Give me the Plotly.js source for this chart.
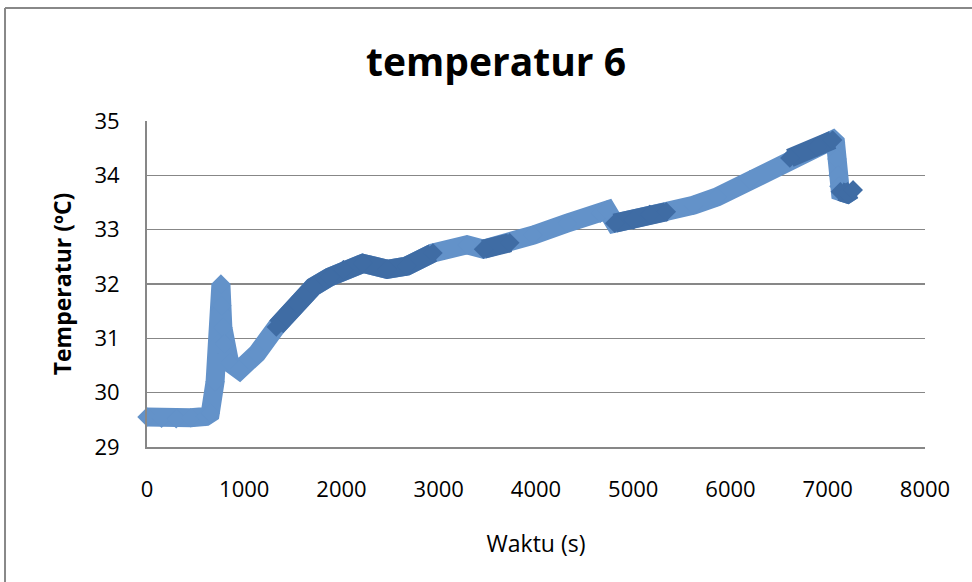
<!DOCTYPE html>
<html>
<head>
<meta charset="utf-8">
<script src="https://cdn.plot.ly/plotly-3.0.1.min.js"></script>
<style>html,body{margin:0;padding:0;background:#fff;}#chart{width:972px;height:582px;}</style>
</head>
<body>
<div id="chart"></div>
<script>
// Data
const timeSeconds = [0,150,300,450,600,650,700,730,750,760,770,780,800,850,950,1130,1330,1540,1710,1880,2020,2220,2470,2670,2940,3290,3460,3730,3970,4320,4660,4730,4810,5000,5170,5340,5620,5860,6200,6610,6890,7050,7080,7095,7105,7115,7130,7200,7260];
const temperature = [29.55,29.53,29.52,29.54,29.56,29.62,30.2,30.9,31.5,32.0,31.6,31.2,30.9,30.55,30.42,30.72,31.21,31.64,31.95,32.13,32.26,32.38,32.27,32.33,32.57,32.72,32.64,32.76,32.9,33.12,33.30,33.36,33.12,33.18,33.28,33.33,33.45,33.6,33.92,34.32,34.52,34.65,34.6,34.3,34.0,33.8,33.7,33.66,33.73];
const xTicks = [0,1000,2000,3000,4000,5000,6000,7000,8000];
const yTicks = [29,30,31,32,33,34,35];
const chartTitle = 'temperatur 6';
const xTitle = 'Waktu (s)';
const yTitle = 'Temperatur (ºC)';
// time spans where the marker band looks darker in the original (dense overlapping markers)
const denseStart = [1330, 2020, 2600, 3460, 4810, 5170, 6610, 7130];
const denseEnd   = [1880, 2470, 2940, 3730, 5000, 5340, 7050, 7260];

const gridColor = '#878787';
const font = 'Open Sans, Lato, sans-serif';
const light = '#6392c9';
const dark = '#3f6ca4';

function inDense(t) {
  for (let i = 0; i < denseStart.length; i++) if (t >= denseStart[i] && t <= denseEnd[i]) return true;
  return false;
}
const denseY = temperature.map((v, i) => inDense(timeSeconds[i]) ? v : null);

const traces = [
  {
    x: timeSeconds, y: temperature,
    type: 'scatter', mode: 'lines+markers', cliponaxis: false,
    line: {color: light, width: 19},
    marker: {symbol: 'diamond', size: 15, color: light, line: {width: 0}},
    hoverinfo: 'x+y', showlegend: false
  },
  {
    x: timeSeconds, y: denseY,
    type: 'scatter', mode: 'lines+markers', connectgaps: false, cliponaxis: false,
    line: {color: dark, width: 19},
    marker: {symbol: 'diamond', size: 15, color: dark, line: {width: 0}},
    hoverinfo: 'skip', showlegend: false
  }
];

const layout = {
  width: 972, height: 582,
  margin: {l: 147, r: 47, t: 121, b: 135},
  paper_bgcolor: '#ffffff', plot_bgcolor: '#ffffff',
  title: {
    text: chartTitle,
    font: {family: font, size: 39, color: '#000', weight: 700},
    xref: 'paper', x: 0.4486, xanchor: 'center',
    yref: 'container', y: 0.893, yanchor: 'middle'
  },
  xaxis: {
    range: [0, 8000], tickvals: xTicks, ticktext: xTicks.map(String),
    showgrid: false, zeroline: false,
    showline: true, linecolor: gridColor, linewidth: 2,
    ticks: 'outside', ticklen: 22, tickcolor: 'rgba(0,0,0,0)',
    tickfont: {family: font, size: 22, color: '#000'},
    title: {text: xTitle, font: {family: font, size: 23, color: '#000'}, standoff: 33}
  },
  yaxis: {
    range: [29, 35], tickvals: yTicks, ticktext: yTicks.map(String),
    showgrid: true, gridcolor: gridColor, gridwidth: 1.5, zeroline: false,
    showline: true, linecolor: gridColor, linewidth: 2,
    ticks: 'outside', ticklen: 21, tickcolor: 'rgba(0,0,0,0)',
    tickfont: {family: font, size: 22, color: '#000'},
    title: {text: yTitle, font: {family: font, size: 23, color: '#000', weight: 700}, standoff: 16}
  },
  shapes: [
    {type: 'line', xref: 'paper', yref: 'paper', x0: -0.1825, x1: 1.07, y0: 1.3466, y1: 1.3466, line: {color: '#888', width: 2}},
    {type: 'line', xref: 'paper', yref: 'paper', x0: -0.1825, x1: -0.1825, y0: 1.3466, y1: -0.42, line: {color: '#888', width: 2}}
  ]
};

Plotly.newPlot('chart', traces, layout, {displayModeBar: false, staticPlot: true});
</script>
</body>
</html>
